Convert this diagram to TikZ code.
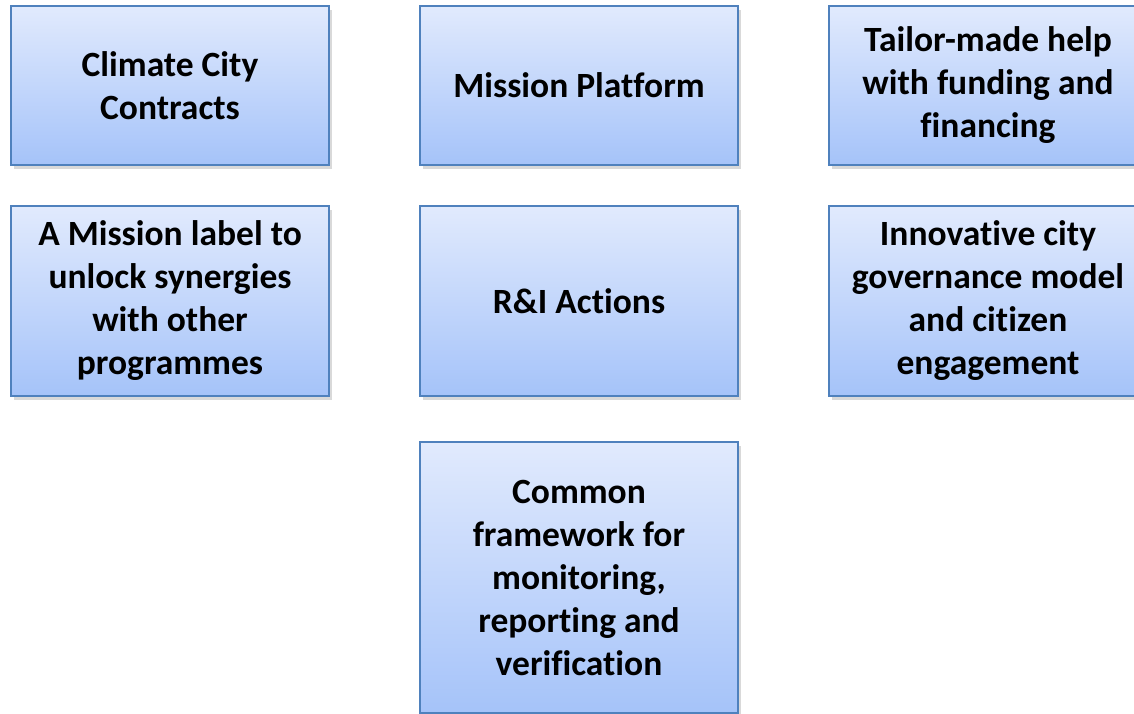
\documentclass[tikz,border=0pt]{standalone}
\usepackage{fontspec}
\setmainfont[Ligatures={NoCommon}]{Carlito}
\usetikzlibrary{shadows}
\definecolor{boxtop}{HTML}{E1EAFD}
\definecolor{boxbot}{HTML}{A5C3F9}
\definecolor{boxline}{HTML}{4F81BD}
\tikzset{
  x=1pt, y=-1pt,
  card/.style={draw=boxline, line width=2pt, top color=boxtop, bottom color=boxbot,
    anchor=north west, inner sep=0pt, align=center,
    font=\fontsize{35.5}{43}\selectfont\bfseries,
    drop shadow={shadow xshift=3pt, shadow yshift=-4pt, opacity=0.25, fill=black!60}},
  rowone/.style={card, minimum width=318pt, minimum height=159pt},
  rowtwo/.style={card, minimum width=318pt, minimum height=190pt},
}
\begin{document}
\begin{tikzpicture}
\useasboundingbox (0,0) rectangle (1134,713);
\node[rowone] (ccc) at (10,5) {Climate City\\Contracts};
\node[rowone] (mp) at (419,5) {Mission Platform};
\node[rowone] (tmh) at (828,5) {Tailor-made help\\with funding and\\financing};
\node[rowtwo] (ml) at (10,205) {A Mission label to\\unlock synergies\\with other\\programmes};
\node[rowtwo] (ri) at (419,205) {R\&I Actions};
\node[rowtwo] (icg) at (828,205) {Innovative city\\governance model\\and citizen\\engagement};
\node[card, minimum width=318pt, minimum height=271pt] (cf) at (419,441) {Common\\framework for\\monitoring,\\reporting and\\verification};
\end{tikzpicture}
\end{document}
